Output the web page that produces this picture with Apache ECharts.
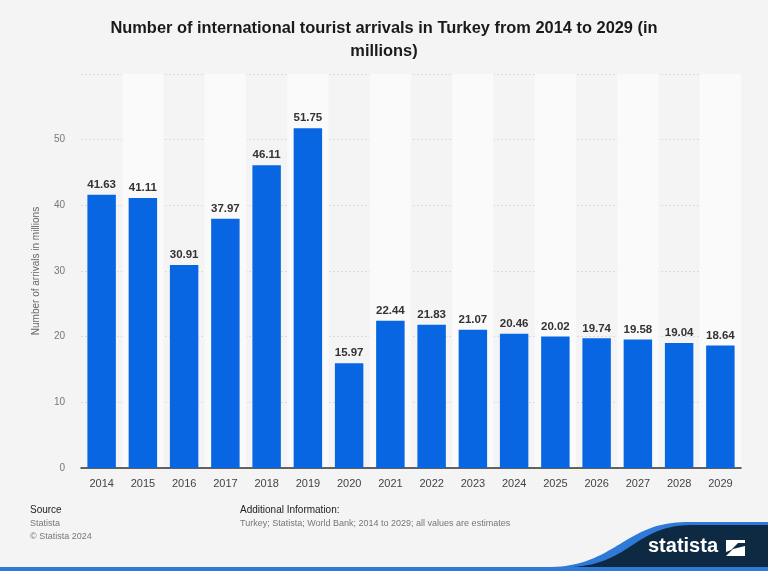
<!DOCTYPE html>
<html><head><meta charset="utf-8">
<script src="https://cdn.jsdelivr.net/npm/echarts@6/dist/echarts.min.js"></script>
<style>html,body{margin:0;padding:0;background:#f4f4f4}#c{width:768px;height:571px}</style>
</head><body><div id="c"></div>
<script>
const years = ['2014','2015','2016','2017','2018','2019','2020','2021','2022','2023','2024','2025','2026','2027','2028','2029'];
const arrivals = [41.63,41.11,30.91,37.97,46.11,51.75,15.97,22.44,21.83,21.07,20.46,20.02,19.74,19.58,19.04,18.64];
const titleText = 'Number of international tourist arrivals in Turkey from 2014 to 2029 (in\nmillions)';
const yAxisName = 'Number of arrivals in millions';

function bez(p0, p1, p2, p3, n) {
  const pts = [];
  for (let i = 0; i <= n; i++) {
    const t = i / n, u = 1 - t;
    pts.push([
      u*u*u*p0[0] + 3*u*u*t*p1[0] + 3*u*t*t*p2[0] + t*t*t*p3[0],
      u*u*u*p0[1] + 3*u*u*t*p1[1] + 3*u*t*t*p2[1] + t*t*t*p3[1]
    ]);
  }
  return pts;
}
const bluePts = bez([552,567],[615,565],[625,523],[685,522],40).concat([[768,522],[768,567]]);
const darkPts = bez([572,567],[630,564],[635,526],[690,525],40).concat([[768,525],[768,567]]);

const chart = echarts.init(document.getElementById('c'), null, {renderer:'canvas'});
const F = 'Liberation Sans, Arial, sans-serif';
chart.setOption({
  backgroundColor: '#f4f4f4',
  animation: false,
  title: {
    text: titleText, left: 'center', top: 12,
    textStyle: {fontFamily: F, fontSize: 16.4, fontWeight: 'bold', color: '#1a1a1a', lineHeight: 23}
  },
  grid: {left: 81, right: 27, top: 74, bottom: 103},
  xAxis: {
    type: 'category', data: years,
    axisLine: {lineStyle: {color: '#333', width: 1.5}},
    axisTick: {show: false},
    axisLabel: {fontFamily: F, fontSize: 11, color: '#444', margin: 10},
    splitArea: {show: true, areaStyle: {color: ['rgba(0,0,0,0)', '#fafafa']}}
  },
  yAxis: {
    type: 'value', min: 0, max: 60, interval: 10,
    name: yAxisName, nameLocation: 'middle', nameGap: 40,
    nameTextStyle: {fontFamily: F, fontSize: 10, color: '#666'},
    axisLabel: {fontFamily: F, fontSize: 10, color: '#777', margin: 16, showMaxLabel: false,
      formatter: v => v === 60 ? '' : String(v)},
    axisLine: {show: false}, axisTick: {show: false},
    splitLine: {lineStyle: {color: '#dcdcdc', type: [2, 2]}}
  },
  series: [{
    type: 'bar', data: arrivals, barWidth: '69%',
    itemStyle: {color: '#0966e3'},
    label: {show: true, position: 'top', distance: 4, fontFamily: F, fontSize: 11.5, fontWeight: 'bold', color: '#333',
      formatter: p => p.value.toFixed(2)}
  }],
  graphic: [
    {type: 'text', x: 30, y: 505, style: {text: 'Source', fontFamily: F, fontSize: 10, fill: '#222'}},
    {type: 'text', x: 30, y: 519, style: {text: 'Statista', fontFamily: F, fontSize: 9, fill: '#777'}},
    {type: 'text', x: 30, y: 532, style: {text: '© Statista 2024', fontFamily: F, fontSize: 9, fill: '#777'}},
    {type: 'text', x: 240, y: 505, style: {text: 'Additional Information:', fontFamily: F, fontSize: 10, fill: '#222'}},
    {type: 'text', x: 240, y: 519, style: {text: 'Turkey; Statista; World Bank; 2014 to 2029; all values are estimates', fontFamily: F, fontSize: 9, fill: '#777'}},
    {type: 'polygon', shape: {points: bluePts}, style: {fill: '#2f7ad8'}},
    {type: 'polygon', shape: {points: darkPts}, style: {fill: '#0e2a42'}},
    {type: 'rect', shape: {x: 0, y: 567, width: 768, height: 4}, style: {fill: '#2f7ad8'}},
    {type: 'text', x: 648, y: 536, style: {text: 'statista', fontFamily: F, fontSize: 20, fontWeight: 'bold', fill: '#ffffff'}},
    {type: 'rect', shape: {x: 726, y: 540, width: 19, height: 16}, style: {fill: '#ffffff'}},
    {type: 'polygon', shape: {points: [[726,556],[733,549],[745,546],[745,543],[738,543],[731,550],[726,552]]}, style: {fill: '#0e2a42'}}
  ]
});
</script></body></html>
